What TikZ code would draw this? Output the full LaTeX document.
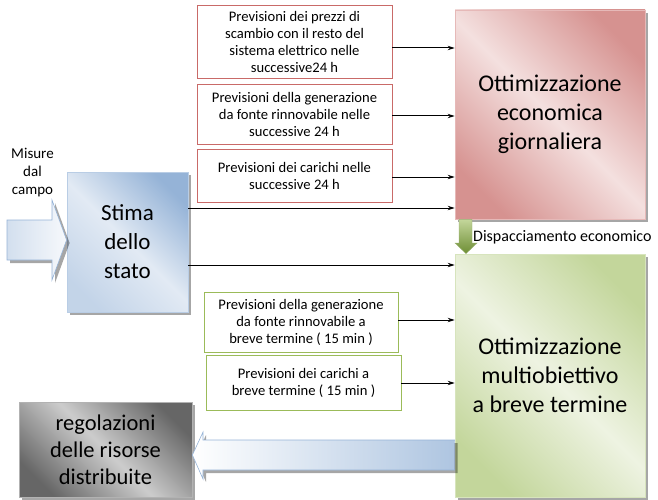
\documentclass[tikz,border=0pt]{standalone}
\usepackage{fontspec}
\setmainfont{Carlito}
\usetikzlibrary{arrows.meta,shadows}
\definecolor{redL}{HTML}{F4E0DF}
\definecolor{redD}{HTML}{D69290}
\definecolor{redB}{HTML}{E6B9B8}
\definecolor{redE}{HTML}{C0504D}
\definecolor{grnL}{HTML}{EEF3E2}
\definecolor{grnD}{HTML}{C3D69B}
\definecolor{grnB}{HTML}{D7E4BD}
\definecolor{grnE}{HTML}{9BBB59}
\definecolor{bluL}{HTML}{E2EAF4}
\definecolor{bluD}{HTML}{95B3D7}
\definecolor{bluB}{HTML}{B9CDE5}
\definecolor{gryL}{HTML}{CCCCCC}
\definecolor{gryD}{HTML}{666666}
\definecolor{arwG1}{HTML}{C3D69B}
\definecolor{arwG2}{HTML}{6E8E34}
\pgfdeclareverticalshading{redsh}{100bp}{color(0bp)=(redD); color(24bp)=(redD); color(50bp)=(redL); color(76bp)=(redD); color(100bp)=(redD)}
\pgfdeclareverticalshading{grnsh}{100bp}{color(0bp)=(grnD); color(24bp)=(grnD); color(50bp)=(grnL); color(76bp)=(grnD); color(100bp)=(grnD)}
\pgfdeclareverticalshading{blush}{100bp}{color(0bp)=(bluL!60!bluD); color(24bp)=(bluL!60!bluD); color(50bp)=(bluL); color(76bp)=(bluD); color(100bp)=(bluD)}
\pgfdeclareverticalshading{grysh}{100bp}{color(0bp)=(gryD); color(24bp)=(gryD); color(50bp)=(gryL); color(76bp)=(gryD); color(100bp)=(gryD)}
\tikzset{
  shadowed/.style={drop shadow={shadow xshift=3pt,shadow yshift=-3pt,fill=black,opacity=0.35}},
  bigbox/.style={shadowed,rectangle,inner sep=0pt,align=center,
     font=\fontsize{24}{29}\selectfont},
  redbig/.style={bigbox,draw=redB,line width=0.8pt,shading=redsh,shading angle=-45},
  grnbig/.style={bigbox,draw=grnB,line width=0.8pt,shading=grnsh,shading angle=-45},
  blubig/.style={bigbox,draw=bluB,line width=0.8pt,shading=blush,shading angle=-45,
     font=\fontsize{23}{29}\selectfont},
  grybig/.style={bigbox,draw=gray!60,line width=0.8pt,shading=grysh,shading angle=-45,
     font=\fontsize{22.5}{27}\selectfont},
  smallbox/.style={rectangle,inner sep=0pt,align=center,fill=white,line width=0.8pt,
     font=\fontsize{14.6}{17}\selectfont},
  redsmall/.style={smallbox,draw=redE!85},
  grnsmall/.style={smallbox,draw=grnE},
  arr/.style={draw=black,line width=1pt,-{Stealth[length=7pt,width=4.5pt]}},
  fatarrow/.style={shadowed,draw=bluD,line width=0.6pt},
  lbl/.style={inner sep=0pt,align=center},
}
\begin{document}
\begin{tikzpicture}[x=1pt,y=-1pt]
\useasboundingbox (0,0) rectangle (658,500);

% big boxes
\node[redbig,minimum width=190pt,minimum height=209pt] (oe) at (550,114.5)
  {Ottimizzazione\\economica\\giornaliera};
\node[grnbig,minimum width=190pt,minimum height=243pt] (om) at (550,375.5)
  {Ottimizzazione\\multiobiettivo\\a breve termine};
\node[blubig,minimum width=121pt,minimum height=140pt] (st) at (127.5,242)
  {Stima\\dello\\stato};
\node[grybig,minimum width=173pt,minimum height=95pt] (rg) at (105.5,449.5)
  {regolazioni\\delle risorse\\distribuite};

% small boxes
\node[redsmall,minimum width=195pt,minimum height=73pt] (p1) at (294.5,41.5)
  {Previsioni dei prezzi di\\scambio con il resto del\\sistema elettrico nelle\\successive24 h};
\node[redsmall,minimum width=195pt,minimum height=60pt] (p2) at (294.5,114)
  {Previsioni della generazione\\da fonte rinnovabile nelle\\successive 24 h};
\node[redsmall,minimum width=195pt,minimum height=53pt] (p3) at (294.5,175.5)
  {Previsioni dei carichi nelle\\successive 24 h};
\node[grnsmall,minimum width=194pt,minimum height=60pt] (g1) at (301,322)
  {Previsioni della generazione\\da fonte rinnovabile a\\breve termine ( 15 min )};
\node[grnsmall,minimum width=195pt,minimum height=55pt] (g2) at (303.5,382.5)
  {Previsioni dei carichi  a\\breve termine ( 15 min )};

% thin arrows
\draw[arr] (p1.east |- 0,48) -- (oe.west |- 0,48);
\draw[arr] (p2.east |- 0,116) -- (oe.west |- 0,116);
\draw[arr] (p3.east |- 0,177) -- (oe.west |- 0,177);
\draw[arr] (st.east |- 0,208) -- (oe.west |- 0,208);
\draw[arr] (st.east |- 0,265) -- (om.west |- 0,265);
\draw[arr] (g1.east |- 0,320) -- (om.west |- 0,320);
\draw[arr] (g2.east |- 0,383) -- (om.west |- 0,383);

% input fat arrow
\coordinate (intip) at (st.west |- 0,240);
\path[fatarrow,left color=bluL!80!bluD,right color=white!70!bluL]
  (7,220) -- (52,220) -- (52,200) -- (intip) -- (52,280) -- (52,260) -- (7,260) -- cycle;
\node[lbl,font=\fontsize{15}{18}\selectfont] (ms) at (32.5,173) {Misure\\dal\\campo};

% output fat arrow
\coordinate (outtip) at (rg.east |- 0,455);
\path[fatarrow,left color=white,right color=bluB!70!bluD]
  (outtip) -- (203,432) -- (203,440) -- (om.west |- 0,440) -- (om.west |- 0,470)
  -- (203,470) -- (203,479) -- cycle;

% green down arrow
\path[top color=arwG1,bottom color=arwG2,draw=arwG2!70,line width=0.4pt]
  (oe.south -| 459,0) -- (oe.south -| 472,0) -- (472,243) -- (477,243)
  -- (om.north -| 466,0) -- (455,243) -- (459,243) -- cycle;
\node[lbl,anchor=west,font=\fontsize{16}{19}\selectfont] (dl) at (473,237) {Dispacciamento economico};
\end{tikzpicture}
\end{document}
